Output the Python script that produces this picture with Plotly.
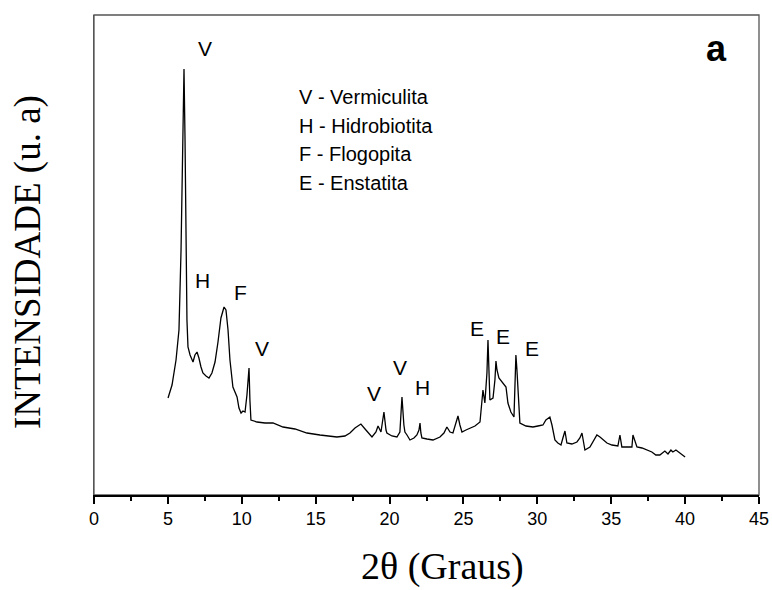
import plotly.graph_objects as go

two_theta = [5.01, 5.28, 5.55, 5.75, 5.89, 6.02, 6.09, 6.16, 6.22, 6.29, 6.36, 6.5, 6.70, 6.83, 6.97,
             7.10, 7.24, 7.37, 7.58, 7.78, 7.98, 8.19, 8.39, 8.59, 8.80, 8.93, 9.07, 9.20, 9.40, 9.54,
             9.68, 9.81, 9.95, 10.08, 10.22, 10.35, 10.49, 10.55, 10.62, 11.03, 11.57, 12.11, 12.79,
             13.6, 14.41, 15.29, 16.44, 16.98, 17.32, 17.66, 18.06, 18.4, 18.81, 19.08, 19.22, 19.42,
             19.62, 19.76, 19.82, 20.16, 20.50, 20.70, 20.84, 20.97, 21.04, 21.18, 21.38, 21.65, 21.85,
             21.99, 22.06, 22.12, 22.19, 22.53, 22.94, 23.41, 23.68, 23.88, 24.09, 24.29, 24.49, 24.63,
             24.76, 24.90, 25.17, 25.44, 25.78, 26.12, 26.25, 26.32, 26.45, 26.59, 26.66, 26.73, 26.79,
             27.0, 27.13, 27.20, 27.27, 27.40, 27.60, 27.81, 27.88, 28.01, 28.21, 28.42, 28.48, 28.55,
             28.62, 28.69, 28.82, 29.23, 29.70, 30.04, 30.38, 30.58, 30.85, 30.99, 31.19, 31.39, 31.60,
             31.73, 31.87, 32.0, 32.34, 32.68, 32.88, 33.02, 33.15, 33.22, 33.56, 33.83, 34.03, 34.24,
             34.44, 34.71, 35.05, 35.45, 35.59, 35.72, 36.06, 36.40, 36.47, 36.60, 36.74, 37.08, 37.42,
             37.75, 38.02, 38.29, 38.63, 38.84, 39.04, 39.17, 39.38, 39.65, 39.86, 40.0]
intensity = [97, 110, 135, 165, 245, 375, 426, 355, 235, 175, 148, 140, 133, 140, 143,
             137, 128, 122, 119, 117, 122, 133, 153, 177, 188, 185, 165, 135, 108, 103,
             98, 87, 82, 84, 83, 100, 127, 95, 75, 73, 72, 72, 68,
             66, 62, 60, 58, 59, 62, 67, 71, 65, 58, 63, 69, 63,
             83, 65, 62, 59, 58, 63, 98, 70, 63, 60, 55, 57, 60,
             65, 72, 62, 57, 56, 55, 58, 62, 68, 63, 62, 73, 79,
             70, 63, 65, 67, 69, 73, 90, 105, 92, 122, 155, 125, 95,
             97, 115, 134, 125, 117, 113, 110, 108, 92, 83, 78, 100, 140,
             125, 107, 72, 69, 68, 69, 70, 75, 78, 70, 55, 52, 50,
             57, 64, 52, 51, 53, 57, 62, 50, 45, 48, 55, 60, 58,
             55, 52, 50, 49, 60, 48, 48, 48, 60, 53, 48, 47, 45,
             43, 40, 40, 44, 41, 45, 43, 45, 42, 40, 38]

peak_labels = ["V", "H", "F", "V", "V", "V", "H", "E", "E", "E"]
peak_x = [7.51, 7.31, 9.88, 11.37, 18.94, 20.70, 22.26, 25.91, 27.67, 29.63]
peak_y = [447, 215, 203, 147, 102, 128, 108, 167, 159, 147]

legend_lines = ["V - Vermiculita", "H - Hidrobiotita", "F - Flogopita", "E - Enstatita"]
legend_y = [398, 369, 341, 312]
legend_x = 13.73

x_ticks = [0, 5, 10, 15, 20, 25, 30, 35, 40, 45]

fig = go.Figure()
fig.add_trace(go.Scatter(x=two_theta, y=intensity, mode="lines",
                         line=dict(color="black", width=1.3), hoverinfo="skip"))

for lab, px, py in zip(peak_labels, peak_x, peak_y):
    fig.add_annotation(x=px, y=py, text=lab, showarrow=False, xref="x", yref="y",
                       font=dict(family="Liberation Sans, Arial", size=21, color="black"))

for txt, ly in zip(legend_lines, legend_y):
    fig.add_annotation(x=legend_x, y=ly, text=txt, showarrow=False, xref="x", yref="y",
                       xanchor="left", font=dict(family="Liberation Sans, Arial", size=20, color="black"))

fig.add_annotation(x=42.15, y=447, text="<b>a</b>", showarrow=False, xref="x", yref="y",
                   font=dict(family="Liberation Sans, Arial", size=36, color="black"))

# axis titles (positions in pixels, converted to paper coords below)
fig.add_annotation(x=442, y=566, xref="paper", yref="paper", text="2θ (Graus)", showarrow=False,
                   xanchor="center", yanchor="middle",
                   font=dict(family="Liberation Serif, Times New Roman", size=38, color="black"))
fig.add_annotation(x=28, y=262, xref="paper", yref="paper", text="INTENSIDADE (u. a)", showarrow=False,
                   textangle=-90, xanchor="center", yanchor="middle",
                   font=dict(family="Liberation Serif, Times New Roman", size=37, color="black"))

W, H = 772, 590
ml, mr, mt, mb = 94, 13, 15, 95
pw, ph = W - ml - mr, H - mt - mb
for ann in fig.layout.annotations:
    if ann.xref == "paper":
        ann.x = (ann.x - ml) / pw
        ann.y = 1 - (ann.y - mt) / ph

fig.update_layout(
    width=W, height=H,
    margin=dict(l=ml, r=mr, t=mt, b=mb, autoexpand=False),
    plot_bgcolor="white", paper_bgcolor="white",
    showlegend=False,
    xaxis=dict(range=[0, 45], tickvals=x_ticks, ticks="outside", ticklen=7, tickwidth=1.5,
               tickcolor="black", showgrid=False, zeroline=False, automargin=False,
               showline=True, linecolor="black", linewidth=1.5, mirror=False,
               tickfont=dict(family="Liberation Sans, Arial", size=18, color="black"),
               minor=dict(dtick=2.5, tick0=0, ticks="outside", ticklen=4, tickwidth=1.5,
                          tickcolor="black", showgrid=False)),
    yaxis=dict(range=[0, 480], showticklabels=False, ticks="", showgrid=False, zeroline=False,
               automargin=False,
               showline=True, linecolor="#555555", linewidth=1.3, mirror=False),
)

fig.add_shape(type="rect", xref="paper", yref="paper", x0=0, y0=0, x1=1, y1=1,
              line=dict(color="#555555", width=1.3), layer="below")

fig.write_html("out.html")
